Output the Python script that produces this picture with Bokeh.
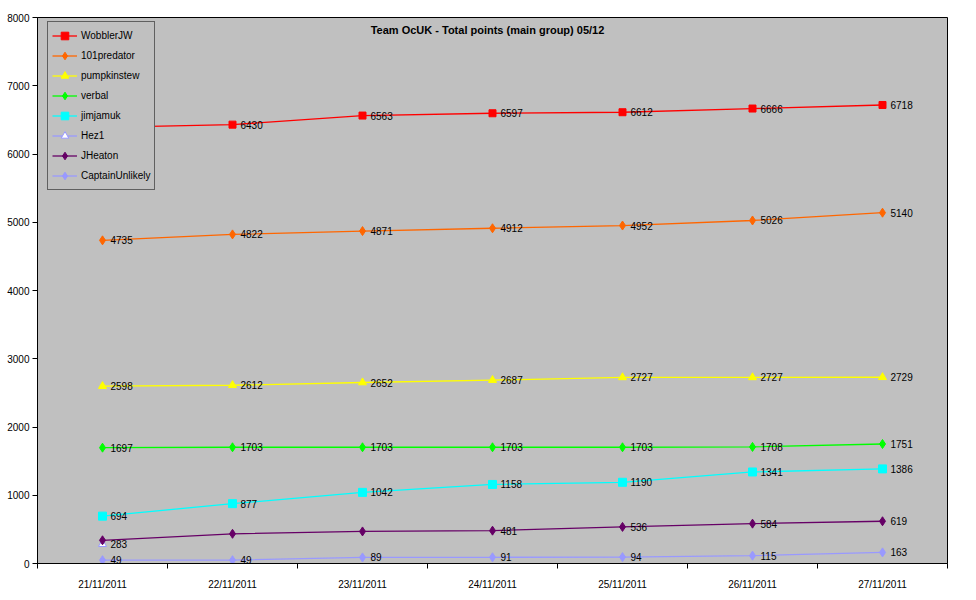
import numpy as np
from bokeh.plotting import figure
from bokeh.models import (ColumnDataSource, LabelSet, Label, Legend, LegendItem,
                          FixedTicker, Range1d)
from bokeh.core.properties import value
from bokeh.embed import file_html
from bokeh.resources import INLINE

title_text = "Team OcUK - Total points (main group) 05/12"
dates = ["21/11/2011", "22/11/2011", "23/11/2011", "24/11/2011",
         "25/11/2011", "26/11/2011", "27/11/2011"]

series_names = ["WobblerJW", "101predator", "pumpkinstew", "verbal",
                "jimjamuk", "Hez1", "JHeaton", "CaptainUnlikely"]
wobblerjw = [6390, 6430, 6563, 6597, 6612, 6666, 6718]
predator101 = [4735, 4822, 4871, 4912, 4952, 5026, 5140]
pumpkinstew = [2598, 2612, 2652, 2687, 2727, 2727, 2729]
verbal = [1697, 1703, 1703, 1703, 1703, 1708, 1751]
jimjamuk = [694, 877, 1042, 1158, 1190, 1341, 1386]
hez1 = [283, None, None, None, None, None, None]
jheaton = [340, 435, 470, 481, 536, 584, 619]
captainunlikely = [49, 49, 89, 91, 94, 115, 163]

# which data labels are visible in the original
labels_shown = {
    "WobblerJW": [False, True, True, True, True, True, True],
    "JHeaton": [False, False, False, True, True, True, True],
}

y_ticks = [0, 1000, 2000, 3000, 4000, 5000, 6000, 7000, 8000]

values = [wobblerjw, predator101, pumpkinstew, verbal, jimjamuk, hez1,
          jheaton, captainunlikely]

styles = {
    "WobblerJW": dict(color="#FF0000", marker="square", fill="#FF0000", size=7),
    "101predator": dict(color="#FF6600", marker="diamond", fill="#FF6600", size=9),
    "pumpkinstew": dict(color="#FFFF00", marker="triangle", fill="#FFFF00", size=8),
    "verbal": dict(color="#00FF00", marker="diamond", fill="#00FF00", size=9),
    "jimjamuk": dict(color="#00FFFF", marker="square", fill="#00FFFF", size=8),
    "Hez1": dict(color="#9999FF", marker="triangle", fill="#FFFFFF", size=8),
    "JHeaton": dict(color="#660066", marker="diamond", fill="#660066", size=9),
    "CaptainUnlikely": dict(color="#9999FF", marker="diamond", fill="#9999FF", size=9),
}

FONT = "Liberation Sans"

x_pos = np.arange(len(dates)) + 0.5
x_bounds = list(np.arange(len(dates) + 1).astype(float))

p = figure(width=976, height=600, output_backend="svg", toolbar_location=None,
           x_range=Range1d(0, len(dates)), y_range=Range1d(y_ticks[0], y_ticks[-1]),
           min_border_left=37, min_border_right=29, min_border_top=17,
           min_border_bottom=37)
p.background_fill_color = "#C0C0C0"
p.border_fill_color = "white"
p.outline_line_color = "black"
p.outline_line_width = 1
p.grid.visible = False

# x axis
p.xaxis.ticker = FixedTicker(ticks=list(x_pos), minor_ticks=x_bounds)
p.xaxis.major_label_overrides = {float(x): d for x, d in zip(x_pos, dates)}
p.xaxis.major_tick_out = 0
p.xaxis.major_tick_in = 0
p.xaxis.minor_tick_out = 5
p.xaxis.minor_tick_in = 0
p.xaxis.minor_tick_line_color = "black"
p.xaxis.major_label_standoff = 10
p.xaxis.major_label_text_font = FONT
p.xaxis.major_label_text_font_size = "10px"
p.xaxis.major_label_text_color = "black"
p.xaxis.axis_line_color = "black"

# y axis
p.yaxis.ticker = FixedTicker(ticks=y_ticks)
p.yaxis.major_tick_out = 5
p.yaxis.major_tick_in = 0
p.yaxis.minor_tick_line_color = None
p.yaxis.major_label_standoff = 3
p.yaxis.major_label_text_font = FONT
p.yaxis.major_label_text_font_size = "10px"
p.yaxis.major_label_text_color = "black"
p.yaxis.axis_line_color = "black"

items = []
for name, vals in zip(series_names, values):
    st = styles[name]
    y = np.array([np.nan if v is None else v for v in vals], dtype=float)
    shown = labels_shown.get(name, [v is not None for v in vals])
    labs = [str(v) if (v is not None and s) else "" for v, s in zip(vals, shown)]
    src = ColumnDataSource(dict(x=x_pos, y=y, lab=labs))
    ln = p.line("x", "y", source=src, line_color=st["color"], line_width=1.3)
    sc = p.scatter("x", "y", source=src, marker=st["marker"], size=st["size"],
                   fill_color=st["fill"], line_color=st["color"], line_width=1)
    ls = LabelSet(x="x", y="y", text="lab", source=src, x_offset=8, y_offset=0,
                  text_baseline="middle", text_align="left",
                  text_font=value(FONT), text_font_size=value("10px"),
                  text_color=value("black"))
    p.add_layout(ls)
    items.append(LegendItem(label=name, renderers=[ln, sc]))

legend = Legend(items=items, location=(10, 373), margin=0, padding=4,
                spacing=1, glyph_height=19, label_height=19, glyph_width=25,
                label_standoff=4, label_text_font=FONT,
                label_text_font_size="10px", label_text_color="black",
                border_line_color="black", border_line_width=1,
                background_fill_color="#C0C0C0", background_fill_alpha=1.0)
p.add_layout(legend)

title = Label(x=450, y=534, x_units="screen", y_units="screen", text=title_text,
              text_align="center", text_baseline="middle", text_font=FONT,
              text_font_style="bold", text_font_size="11px", text_color="black")
p.add_layout(title)

open("out.html", "w").write(file_html(p, INLINE))
